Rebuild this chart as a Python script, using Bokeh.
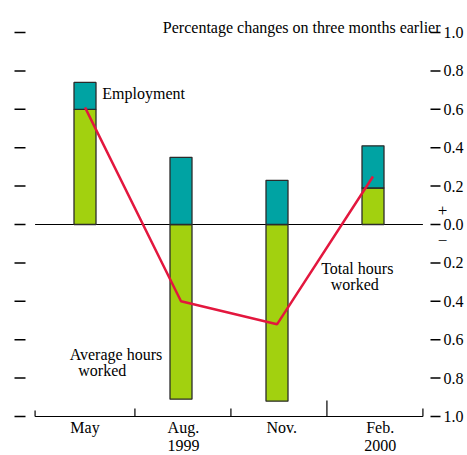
from bokeh.plotting import figure
from bokeh.models import Range1d, ColumnDataSource
from bokeh.core.properties import value
from bokeh.embed import file_html
from bokeh.resources import INLINE

# ---- data ----
months = ["May", "Aug.", "Nov.", "Feb."]
years = ["1999", "2000"]
year_slots = [1, 3]                       # which month each year label sits under
avg_hours = [0.60, -0.91, -0.92, 0.19]    # Average hours worked
employment = [0.14, 0.35, 0.23, 0.22]     # Employment
total_hours = [0.61, -0.40, -0.52, 0.25]  # Total hours worked
y_ticks = [-1.0, -0.8, -0.6, -0.4, -0.2, 0.0, 0.2, 0.4, 0.6, 0.8, 1.0]
y_tick_labels = ["%.1f" % abs(t) for t in y_ticks]

# ---- layout / style ----
W, H = 467, 455
FONT = "Liberation Serif"
FS = "16px"
TEAL = "#00A3A3"
GREEN = "#A2D10F"
RED = "#E3173E"
EDGE = "#2b2b2b"
PX = 96.0          # pixels per category
PY = 192.0         # pixels per unit of y
X0_PX = 84.5       # pixel column of the first category centre
Y0_PX = 224.0      # pixel row of zero


def fx(px):  # pixel column -> data x
    return (px - X0_PX) / PX


def fy(py):  # pixel row -> data y
    return (Y0_PX - py) / PY


n = len(months)
xs = list(range(n))
bounds = [-0.52] + [i + 0.52 for i in xs]
label_x = [i * 1.025 for i in xs]

green_bottom = [0.0] * n
green_top = avg_hours
teal_bottom = [max(a, 0.0) for a in avg_hours]
teal_top = [b + e for b, e in zip(teal_bottom, employment)]

p = figure(width=W, height=H, output_backend="svg", toolbar_location=None,
           x_range=Range1d(fx(0), fx(W)), y_range=Range1d(fy(H), fy(0)),
           x_axis_location=None, y_axis_location=None,
           min_border_left=0, min_border_right=0, min_border_top=0, min_border_bottom=0)
p.grid.grid_line_color = None
p.outline_line_color = None
p.background_fill_color = "white"
p.border_fill_color = "white"

nt = len(y_ticks)
# left tick marks (no labels)
p.segment(x0=[fx(14)] * nt, y0=y_ticks, x1=[fx(25)] * nt, y1=y_ticks,
          line_color="black", line_width=1.5)
# right tick marks with unsigned labels
p.segment(x0=[fx(430)] * nt, y0=y_ticks, x1=[fx(440)] * nt, y1=y_ticks,
          line_color="black", line_width=1.5)
p.text(x=[fx(443)] * nt, y=y_ticks, text=y_tick_labels, text_font=value(FONT),
       text_font_size=value(FS), text_color="black", text_align="left", text_baseline="middle")

# baseline and category separator ticks (longer one at the year change)
tick_len = [6, 8, 8, 16, 8]
p.segment(x0=[bounds[0]], y0=[-1.0], x1=[bounds[-1]], y1=[-1.0], line_color="black", line_width=1.2)
p.segment(x0=bounds, y0=[-1.0] * len(bounds), x1=bounds, y1=[-1.0 + t / PY for t in tick_len],
          line_color="black", line_width=1.2)

# zero line
p.segment(x0=[bounds[0]], y0=[0.0], x1=[bounds[-1]], y1=[0.0], line_color="black", line_width=1)

src = ColumnDataSource(dict(x=xs, gb=green_bottom, gt=green_top, tb=teal_bottom, tt=teal_top,
                            total=total_hours))
p.vbar(x="x", width=22 / PX, bottom="gb", top="gt", source=src, fill_color=GREEN,
       line_color=EDGE, line_width=1.3)
p.vbar(x="x", width=22 / PX, bottom="tb", top="tt", source=src, fill_color=TEAL,
       line_color=EDGE, line_width=1.3)
p.line(x="x", y="total", source=src, line_color=RED, line_width=2.5)


def txt(texts, x, y, align="left", baseline="middle", size=FS):
    p.text(x=x, y=y, text=texts, text_font=value(FONT), text_font_size=value(size),
           text_color="black", text_align=align, text_baseline=baseline)


# category and year labels
txt(months, label_x, [fy(427)] * n, align="center")
txt(years, [label_x[s] for s in year_slots], [fy(445)] * len(years), align="center")

# title and annotations
txt(["Percentage changes on three months earlier"], [fx(440)], [fy(27)], align="right",
    baseline="alphabetic")
txt(["Employment"], [0.18], [0.68])
txt(["Average hours"], [-0.16], [-0.677])
txt(["worked"], [-0.07], [-0.76])
txt(["Total hours"], [2.46], [-0.229])
txt(["worked"], [2.56], [-0.3125])
txt(["+"], [fx(442)], [fy(210)], align="center", size="17px")
txt(["\u2212"], [fx(442)], [fy(240)], align="center", size="17px")

open("out.html", "w").write(file_html(p, INLINE))
